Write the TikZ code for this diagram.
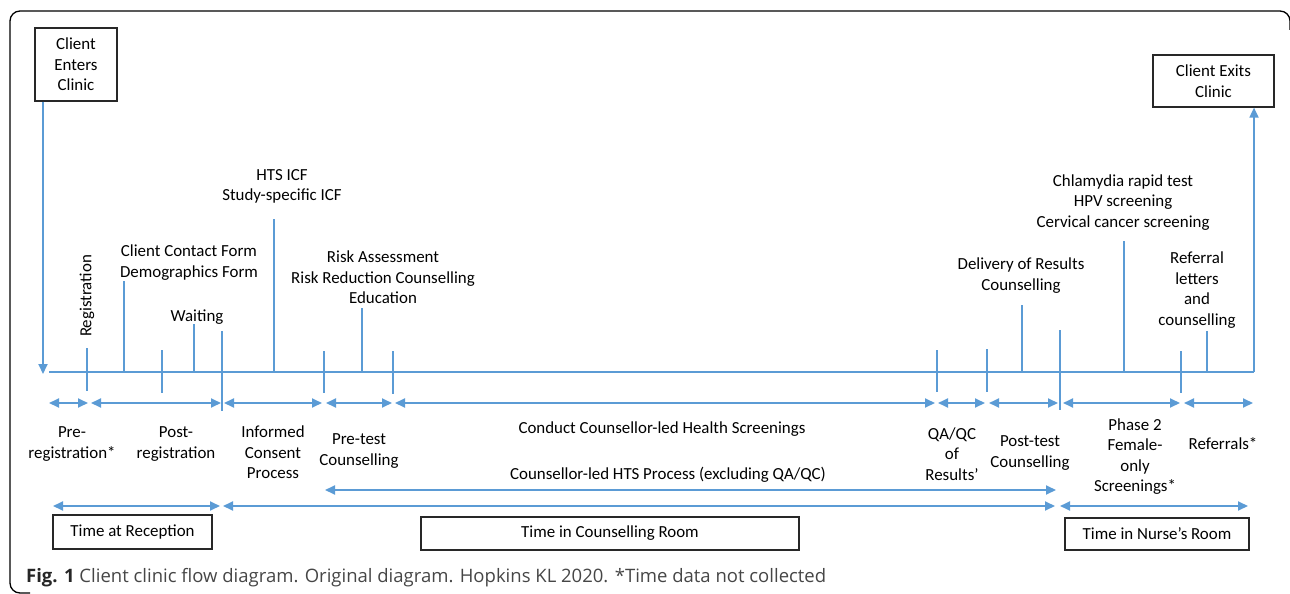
\documentclass[tikz,border=0pt]{standalone}
\usepackage{fontspec}
\setmainfont{Carlito}
\newfontfamily\capfont{Open Sans}
\usetikzlibrary{arrows.meta}
\definecolor{flowblue}{RGB}{91,155,213}
\definecolor{boxgray}{RGB}{40,40,40}
\definecolor{capgray}{RGB}{70,70,70}
\begin{document}
\begin{tikzpicture}[x=1pt,y=-1pt,
  lbl/.style={font=\fontsize{16.9}{20.6}\selectfont, align=center, inner sep=0pt},
  box/.style={draw=boxgray, line width=1.2pt, lbl},
  tick/.style={draw=flowblue, line width=1.3pt},
  tip/.tip={Triangle[length=10pt,width=9pt]},
  span/.style={draw=flowblue, line width=1.8pt, tip-tip},
  flow/.style={draw=flowblue, line width=1.8pt, -{Triangle[length=10pt,width=9pt]}},
  ]
\useasboundingbox (0,0) rectangle (1290,594);
% frame
\draw[line width=1.3pt, rounded corners=10pt] (1290,30) -- (1290,11) -- (10,11) -- (10,593) -- (30,593);

% start / end boxes
\node[box, minimum width=82, minimum height=73] (enter) at (76,64.5) {Client\\Enters\\Clinic};
\node[box, minimum width=121, minimum height=52] (exit) at (1213.5,81) {Client Exits\\Clinic};

% timeline
\coordinate (tlL) at (49,372);
\coordinate (tlR) at (1254,372);
\coordinate (entry) at (43,374);
\draw[tick] (tlL) -- (tlR);
\draw[flow] (enter.south -| entry) -- (entry);
\draw[flow] (tlR) -- (exit.south -| tlR);

% ticks
\foreach \x/\a/\b in {87/348/391, 124/281/372, 162/350/393, 194/324/372, 222/331/411,
  274/219/373, 324/351/393, 362/308/372, 393/351/394, 937/350/392, 987/349/392,
  1022/305/372, 1060/330/410, 1124/241/372, 1181/351/393, 1207/331/372}
  \draw[tick] (\x,\a) -- (\x,\b);

% upper labels
\node[lbl, rotate=90] (reg) at (87,296) {Registration};
\node[lbl] (forms) at (189,262.5) {Client Contact Form\\Demographics Form};
\node[lbl] (wait) at (197,317) {Waiting};
\node[lbl] (icf) at (282,186.5) {HTS ICF\\Study-specific ICF};
\node[lbl] (risk) at (383,277.5) {Risk Assessment\\Risk Reduction Counselling\\Education};
\node[lbl] (deliv) at (1021,275.5) {Delivery of Results\\Counselling};
\node[lbl] (chlam) at (1123,202.5) {Chlamydia rapid test\\HPV screening\\Cervical cancer screening};
\node[lbl] (refl) at (1197,290) {Referral\\letters\\and\\counselling};

% stage spans
\foreach \l/\r [count=\i] in {49/88, 91/221, 224/322, 326/392, 395/935, 938/985, 989/1058, 1063/1180, 1184/1253}{
  \coordinate (s\i L) at (\l,403);
  \coordinate (s\i R) at (\r,403);
  \draw[span] (s\i L) -- (s\i R);
}

% stage labels
\node[lbl] (pre) at (72,444) {Pre-\\registration*};
\node[lbl] (post) at (176,444) {Post-\\registration};
\node[lbl] (inf) at (273,452.5) {Informed\\Consent\\Process};
\node[lbl] (ptc) at (359,451) {Pre-test\\Counselling};
\node[lbl] (cond) at (662,429) {Conduct Counsellor-led Health Screenings};
\node[lbl] (qaqc) at (952,454) {QA/QC\\of\\Results’};
\node[lbl] (postc) at (1030,453) {Post-test\\Counselling};
\node[lbl] (ph2) at (1135,456.5) {Phase 2\\Female-\\only\\Screenings*};
\node[lbl] (refs) at (1223,444) {Referrals*};
\node[lbl] (hts) at (668,475) {Counsellor-led HTS Process (excluding QA/QC)};

% process span
\coordinate (hL) at (325,490);
\coordinate (hR) at (1056,490);
\draw[span] (hL) -- (hR);

% room spans
\coordinate (r1L) at (53,506);
\coordinate (r1R) at (220,506);
\coordinate (r2L) at (223,506);
\coordinate (r2R) at (1055,506);
\coordinate (r3L) at (1060,506);
\coordinate (r3R) at (1248,506);
\draw[span] (r1L) -- (r1R);
\draw[span] (r2L) -- (r2R);
\draw[span] (r3L) -- (r3R);

% room boxes
\node[box, minimum width=159, minimum height=34] (recep) at (132.5,532) {Time at Reception};
\node[box, minimum width=378, minimum height=33] (couns) at (610,533.5) {Time in Counselling Room};
\node[box, minimum width=184, minimum height=32] (nurse) at (1157,534) {Time in Nurse’s Room};

% caption
\node[anchor=base west, inner sep=0pt, text=capgray, font=\capfont\fontsize{18.5}{22}\selectfont] (cap) at (26,582)
  {\textbf{\color{black!85}Fig. 1} Client clinic flow diagram. Original diagram. Hopkins KL 2020. *Time data not collected};
\end{tikzpicture}
\end{document}
